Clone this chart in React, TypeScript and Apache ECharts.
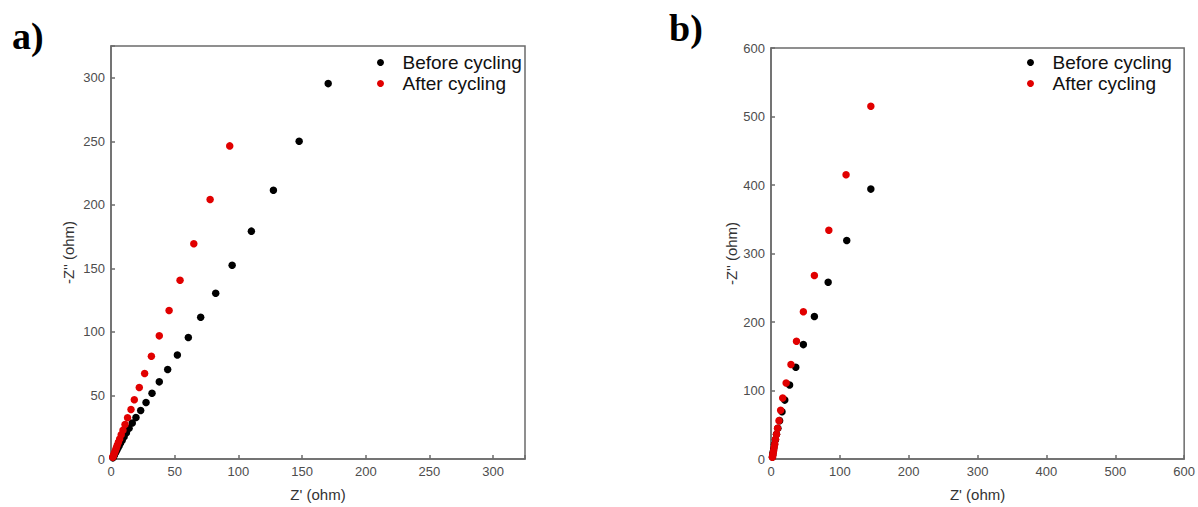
import React, { useEffect, useRef } from "react";
import * as echarts from "echarts";

// Panel a) data: Z' (ohm), -Z'' (ohm)
const A_BEFORE: [number, number][] = [
  [170.5, 295.4], [147.7, 250], [127.5, 211.5], [110.2, 179.3], [95.1, 152.4],
  [82.2, 130.4], [70.4, 111.5], [60.7, 95.6], [52.1, 81.9], [44.5, 70.4],
  [37.9, 60.7], [32.2, 51.8], [27.5, 44.5], [23.3, 38.2], [19.6, 32.7],
  [16.7, 28.3], [14.2, 24.2], [12.1, 20.6], [10.3, 17.5], [8.8, 14.8],
  [7.5, 12.5], [6.4, 10.5], [5.5, 8.8], [4.7, 7.3], [4.0, 6.0], [3.4, 4.9],
  [2.9, 3.9], [2.5, 3.0], [2.1, 2.2], [1.8, 1.5], [1.5, 0.9],
];
const A_AFTER: [number, number][] = [
  [93.2, 246.4], [77.8, 204.2], [65.0, 169.4], [54.2, 140.6], [45.6, 116.8],
  [37.9, 96.9], [31.7, 80.9], [26.4, 67.3], [22.2, 56.3], [18.3, 46.6],
  [15.7, 39.0], [13.0, 32.5], [11.0, 27.2], [9.4, 22.7], [8.0, 19.0],
  [6.8, 15.8], [5.8, 13.1], [4.9, 10.8], [4.2, 8.8], [3.6, 7.1], [3.0, 5.6],
  [2.5, 4.3], [2.1, 3.2], [1.7, 2.2], [1.4, 1.3],
];

// Panel b) data
const B_BEFORE: [number, number][] = [
  [145, 394], [110, 319], [83, 258], [63, 208], [47, 167], [36, 134],
  [27, 108], [20, 86], [16, 69], [12.5, 56], [10, 45], [8, 36], [6.5, 28],
  [5, 21], [4, 15], [3, 10], [2.5, 6], [2, 3],
];
const B_AFTER: [number, number][] = [
  [145, 515], [109, 415], [84, 334], [63, 268], [47, 215], [37, 172],
  [29, 138], [22, 111], [17, 89], [14, 71], [11.6, 56], [9.5, 45], [8, 36],
  [6.5, 29], [5.5, 22], [4.5, 17], [3.8, 12], [3, 8], [2.5, 5], [2, 2.5],
];

const SERIES_NAMES = ["Before cycling", "After cycling"];
const PANEL_LABELS = ["a)", "b)"];
const X_NAME = "Z' (ohm)";
const Y_NAME = "-Z'' (ohm)";
const A_MAX = 325;
const A_STEP = 50;
const B_MAX = 600;
const B_STEP = 100;

const FONT = "Liberation Sans, Arial, sans-serif";
const AXIS_COLOR = "#6b6b6b";
const LABEL_COLOR = "#4d4d4d";
const BLACK = "#000000";
const RED = "#e10000";

function axis(kind: "x" | "y", grid: number, max: number, step: number, nameGap: number) {
  return {
    type: "value",
    gridIndex: grid,
    min: 0,
    max,
    interval: step,
    name: kind === "x" ? X_NAME : Y_NAME,
    nameLocation: "middle",
    nameGap,
    nameTextStyle: { fontFamily: FONT, fontSize: 15, color: "#333333" },
    axisLine: { show: true, onZero: false, lineStyle: { color: AXIS_COLOR, width: 1.5 } },
    axisTick: { show: true, inside: true, length: 4, lineStyle: { color: AXIS_COLOR, width: 1.5 } },
    axisLabel: {
      fontFamily: FONT,
      fontSize: 13,
      color: LABEL_COLOR,
      margin: 6,
      formatter: (v: number) => (v % step === 0 ? String(v) : ""),
    },
    splitLine: { show: false },
  };
}

export default function App() {
  const ref = useRef<HTMLDivElement>(null);
  useEffect(() => {
    if (!ref.current) return;
    const chart = echarts.init(ref.current, undefined, { renderer: "svg" });
    const scatter = (name: string, data: [number, number][], grid: number, color: string) => ({
      type: "scatter",
      name,
      xAxisIndex: grid,
      yAxisIndex: grid,
      data,
      symbol: "circle",
      symbolSize: 7.5,
      itemStyle: { color, opacity: 1 },
      z: color === RED ? 3 : 2,
    });
    const legend = (left: number) => ({
      orient: "vertical",
      left,
      top: 48,
      data: SERIES_NAMES.map((n) => ({ name: n, icon: "circle" })),
      itemWidth: 34,
      itemHeight: 7,
      itemGap: 2,
      textStyle: { fontFamily: FONT, fontSize: 19, color: "#111" },
      selectedMode: false,
    });
    chart.setOption({
      animation: false,
      backgroundColor: "#ffffff",
      grid: [
        { left: 111, top: 46, width: 414, height: 414, show: true, borderColor: AXIS_COLOR, borderWidth: 1.5, backgroundColor: "transparent" },
        { left: 771, top: 48, width: 414, height: 412, show: true, borderColor: AXIS_COLOR, borderWidth: 1.5, backgroundColor: "transparent" },
      ],
      xAxis: [axis("x", 0, A_MAX, A_STEP, 28), axis("x", 1, B_MAX, B_STEP, 28)],
      yAxis: [axis("y", 0, A_MAX, A_STEP, 35), axis("y", 1, B_MAX, B_STEP, 30)],
      legend: [legend(372), legend(1022)],
      series: [
        scatter(SERIES_NAMES[0], A_BEFORE, 0, BLACK),
        scatter(SERIES_NAMES[1], A_AFTER, 0, RED),
        scatter(SERIES_NAMES[0], B_BEFORE, 1, BLACK),
        scatter(SERIES_NAMES[1], B_AFTER, 1, RED),
      ],
      color: [BLACK, RED],
      graphic: [
        {
          type: "text",
          left: 12,
          top: 17,
          style: { text: PANEL_LABELS[0], font: "bold 38px 'Liberation Serif', 'Times New Roman', serif", fill: "#000" },
        },
        {
          type: "text",
          left: 669,
          top: 9,
          style: { text: PANEL_LABELS[1], font: "bold 38px 'Liberation Serif', 'Times New Roman', serif", fill: "#000" },
        },
      ],
    });
    return () => chart.dispose();
  }, []);
  return <div ref={ref} style={{ position: "absolute", left: 0, top: 0, width: 1198, height: 507 }} />;
}
